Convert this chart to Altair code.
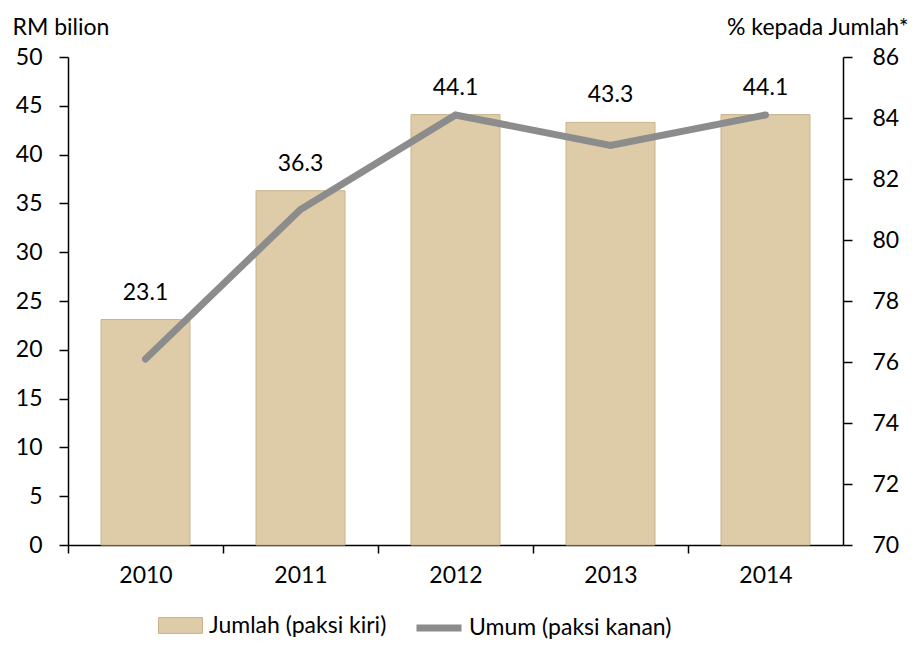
import altair as alt
import pandas as pd

years = ["2010", "2011", "2012", "2013", "2014"]
jumlah = [23.1, 36.3, 44.1, 43.3, 44.1]
umum = [76.1, 81.0, 84.1, 83.1, 84.1]

df = pd.DataFrame({"year": years, "jumlah": jumlah, "umum": umum,
                   "s_bar": "Jumlah (paksi kiri)", "s_line": "Umum (paksi kanan)"})

FONT = "Lato"
FS = 23

x = alt.X("year:N", title=None, scale=alt.Scale(paddingInner=0.426, paddingOuter=0.213),
          axis=alt.Axis(labelAngle=0, tickOffset=-77.5, labelOffset=77.5, labelPadding=11, tickSize=8))

bars = alt.Chart(df).mark_bar(stroke="#C8B48C", strokeWidth=1).encode(
    x=x,
    y=alt.Y("jumlah:Q", scale=alt.Scale(domain=[0, 50]),
            axis=alt.Axis(values=list(range(0, 51, 5)), title="RM bilion", titleAngle=0,
                          titleAlign="left", titleBaseline="middle", titleX=-56, titleY=-30,
                          titleFontWeight="normal", tickSize=9, labelPadding=17, grid=False)),
    fill=alt.Fill("s_bar:N", scale=alt.Scale(range=["#DECBA7"]),
                  legend=alt.Legend(title=None, orient="none", legendX=90, legendY=546,
                                    padding=0, symbolType="M-1,-0.36H1V0.36H-1Z",
                                    symbolSize=1936, symbolStrokeColor="#C8B48C",
                                    symbolStrokeWidth=1, labelOffset=6, labelLimit=400)),
)

labels = alt.Chart(df).mark_text(baseline="middle", dy=-27, fontSize=FS, font=FONT, color="#000").encode(
    x=x, y=alt.Y("jumlah:Q", scale=alt.Scale(domain=[0, 50])), text=alt.Text("jumlah:Q", format=".1f"))

left = alt.layer(bars, labels)

line = alt.Chart(df).mark_line(strokeWidth=7, strokeCap="round", strokeJoin="miter", color="#8C8C8C").encode(
    x=x,
    y=alt.Y("umum:Q", scale=alt.Scale(domain=[70, 86]),
            axis=alt.Axis(values=list(range(70, 87, 2)), orient="right", title="% kepada Jumlah*",
                          titleAngle=0, titleAlign="right", titleBaseline="middle",
                          titleX=65, titleY=-30, titleFontWeight="normal",
                          tickSize=9, labelPadding=20, grid=False)),
    stroke=alt.Stroke("s_line:N", scale=alt.Scale(range=["#8C8C8C"]),
                      legend=alt.Legend(title=None, orient="none", legendX=345, legendY=545,
                                        padding=0, symbolType="stroke",
                                        symbolStrokeWidth=7, symbolSize=2025,
                                        labelOffset=4, labelLimit=400)),
)

chart = alt.layer(left, line).resolve_scale(
    y="independent", fill="independent", stroke="independent"
).properties(
    width=775, height=488,
    autosize=alt.AutoSizeParams(type="none"),
    padding={"left": 60, "top": 49, "right": 66, "bottom": 97},
).configure_view(stroke=None).configure_axis(
    labelFont=FONT, titleFont=FONT, labelFontSize=FS, titleFontSize=FS,
    labelColor="#000", titleColor="#000", domainColor="#000", tickColor="#000",
    domainWidth=1.5, tickWidth=1.5
).configure_legend(
    labelFont=FONT, labelFontSize=FS, labelColor="#000"
)

chart.save("out.html", embed_options={"renderer": "svg", "actions": False})
